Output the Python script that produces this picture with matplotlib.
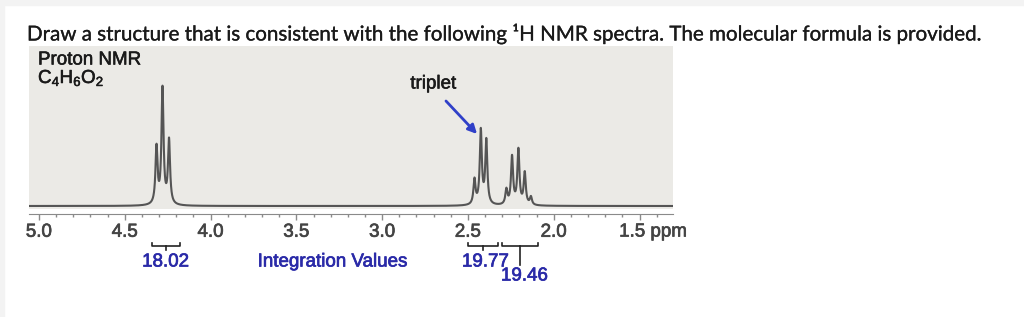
import numpy as np
import matplotlib
matplotlib.use('Agg')
import matplotlib.pyplot as plt
import matplotlib.patheffects as pe
from matplotlib.patches import Rectangle

plt.rcParams['font.family'] = ['Liberation Sans', 'DejaVu Sans']
plt.rcParams['mathtext.fontset'] = 'custom'
plt.rcParams['mathtext.rm'] = 'Liberation Sans'
plt.rcParams['mathtext.it'] = 'Liberation Sans:italic'

# peak lines (ppm, height)
q_ppm = [4.315, 4.280, 4.242]
q_height = [57, 116, 64]
t_ppm = [2.462, 2.425, 2.393]
t_height = [25, 74, 64]
m_ppm = [2.276, 2.243, 2.206, 2.169, 2.133]
m_height = [15, 48, 55, 32, 8]
hwhm = 0.0072

# integration brackets (from ppm, to ppm, value)
int_from = [4.343, 2.497, 2.303]
int_to = [4.180, 2.323, 2.089]
int_vals = ['18.02', '19.77', '19.46']

ticks = [5.0, 4.5, 4.0, 3.5, 3.0, 2.5, 2.0, 1.5]
tick_labels = ['5.0', '4.5', '4.0', '3.5', '3.0', '2.5', '2.0', '']

W, H = 1024, 317
thick = [pe.withStroke(linewidth=0.5, foreground='#444444')]
thickb = [pe.withStroke(linewidth=0.5, foreground='#2a2aa8')]
thickk = [pe.withStroke(linewidth=0.4, foreground='#1a1a1a')]
thin = [pe.withStroke(linewidth=0.2, foreground='#1a1a1a')]

fig = plt.figure(figsize=(W / 100, H / 100), dpi=100)
fig.patches.append(Rectangle((0, 1 - 5 / H), 1, 5 / H, transform=fig.transFigure,
                             color='#f3f3f3', zorder=0))
fig.patches.append(Rectangle((0, 0), 4 / W, 1, transform=fig.transFigure,
                             color='#f3f3f3', zorder=0))

fig.text(27 / W, 1 - 34 / H, 'Draw a structure that is consistent with the following ¹H NMR spectra. '
         'The molecular formula is provided.', family=['Lato', 'DejaVu Sans'],
         fontsize=14.8, color='#1a1a1a', va='center', ha='left', path_effects=thin)

ax = fig.add_axes([29 / W, 1 - 209 / H, 644 / W, 163 / H])
ax.set_facecolor('#ebeae6')

x = np.linspace(5.06, 1.30, 6000)
y = np.zeros_like(x)
for p, h in zip(q_ppm + t_ppm + m_ppm, q_height + t_height + m_height):
    y += h * hwhm ** 2 / ((x - p) ** 2 + hwhm ** 2)
ax.plot(x, y, color='#555555', lw=1.5)

ax.set_xlim(5.058, 1.305)
ax.set_ylim(-3, 160)
ax.set_yticks([])
for s in ['left', 'right', 'top']:
    ax.spines[s].set_visible(False)
ax.spines['bottom'].set_position(('outward', 3.3))
ax.spines['bottom'].set_color('#8a8a8a')
ax.set_xticks(ticks)
ax.set_xticklabels(tick_labels)
ax.set_xticks(np.arange(1.4, 5.06, 0.1), minor=True)
ax.tick_params(axis='x', which='major', length=4.3, width=1, color='#8a8a8a',
               labelsize=13.5, labelcolor='#444444', pad=3)
ax.tick_params(axis='x', which='minor', length=2.5, width=1, color='#8a8a8a')
for lab in ax.get_xticklabels():
    lab.set_path_effects(thick)
ax.annotate('1.5 ppm', xy=(1.5, 0), xycoords=('data', 'axes fraction'),
            xytext=(13.5, -23), textcoords='offset pixels', fontsize=13.5,
            color='#444444', ha='center', va='center', path_effects=thick)

ax.text(9 / 644, 1 - 14 / 163, 'Proton NMR', transform=ax.transAxes, fontsize=13.5,
        color='#1a1a1a', va='center', path_effects=thickk)
ax.text(9 / 644, 1 - 32 / 163, 'C$_4$H$_6$O$_2$', transform=ax.transAxes, fontsize=13.5,
        color='#1a1a1a', va='center', path_effects=thickk)

ax.text(2.703, 122, 'triplet', fontsize=13.5, color='#1a1a1a', ha='center', va='center',
        path_effects=thickk)
ax.annotate('', xy=(2.447, 72), xytext=(2.628, 105),
            arrowprops=dict(arrowstyle='-|>', color='#3040c8', lw=2,
                            mutation_scale=13, shrinkA=0, shrinkB=0))

# integration brackets below axis
blue = '#2a2aa8'
btrans = ax.get_xaxis_transform()
for i, (a, b, v) in enumerate(zip(int_from, int_to, int_vals)):
    ybar = -37 / 163
    c = (a + b) / 2
    ax.plot([a, a, b, b], [ybar + 3 / 163, ybar, ybar, ybar + 3 / 163],
            transform=btrans, color='#222222', lw=1.2, clip_on=False)
    down = 4 / 163 if i < 2 else 19 / 163
    ax.plot([c, c], [ybar, ybar - down], transform=btrans, color='#222222', lw=1.2,
            clip_on=False)
    if i < 2:
        ax.text(c - (0.012 if i == 1 else 0), ybar - 16 / 163, v, transform=btrans,
                fontsize=13.5, color=blue, ha='center', va='center', path_effects=thickb)
    else:
        ax.text(c - 0.025, ybar - 30 / 163, v, transform=btrans, fontsize=13.5,
                color=blue, ha='center', va='center', path_effects=thickb)
ax.text(3.29, -53 / 163, 'Integration Values', transform=btrans, fontsize=13.5,
        color=blue, ha='center', va='center', path_effects=thickb)

fig.savefig('out.png', dpi=100)
